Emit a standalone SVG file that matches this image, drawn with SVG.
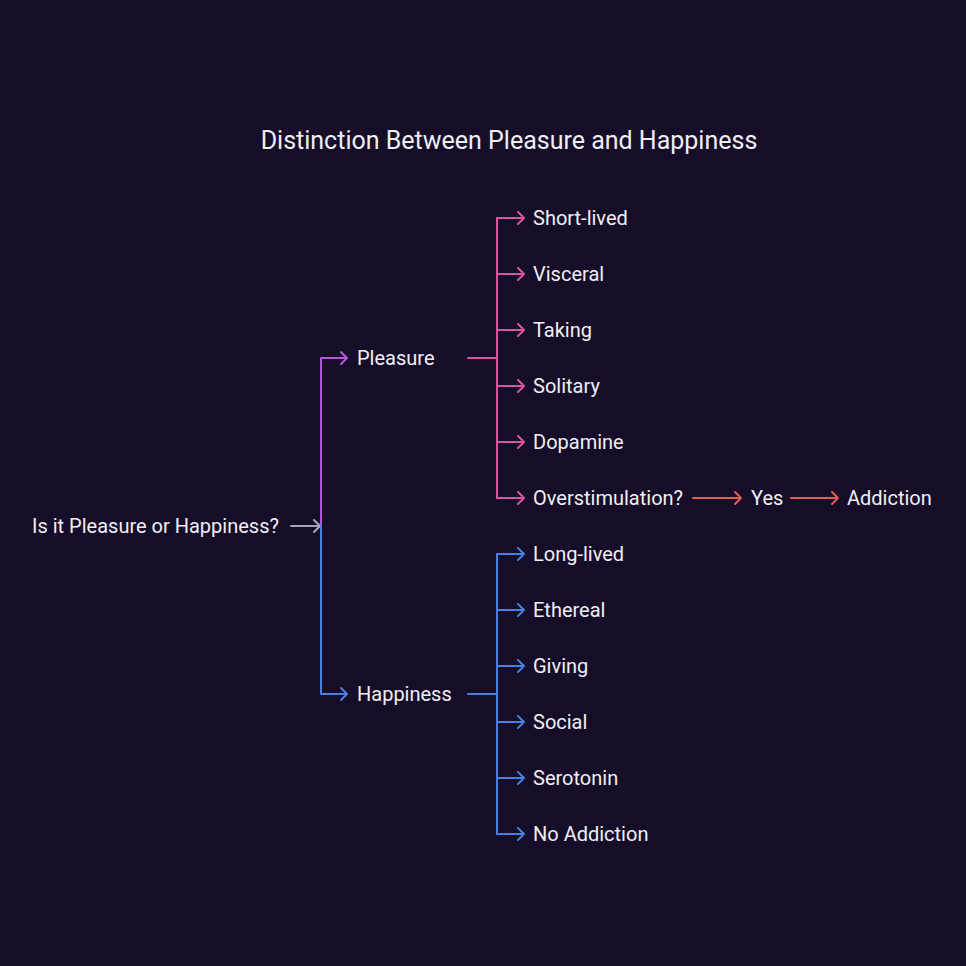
<svg xmlns="http://www.w3.org/2000/svg" width="966" height="966" viewBox="0 0 966 966">
<defs>
<style>
text{font-family:Roboto,"Liberation Sans",sans-serif;fill:#f0eef5;font-size:20px}
.title{font-size:25px;text-anchor:middle}
.c{fill:none;stroke-width:2;stroke-linecap:round;stroke-linejoin:round}
.g{stroke:#a9a6b3}.p{stroke:#b157d8}.k{stroke:#d9539f}.b{stroke:#4a7fe0}.r{stroke:#e45b52}
</style>
</defs>
<rect width="966" height="966" fill="#160e28"/>
<text class="title" x="509" y="149">Distinction Between Pleasure and Happiness</text>
<g id="connectors">
<path class="c g" d="M291 526H320M314 520L320 526L314 532"/>
<path class="c p" d="M321 526V358H347M341 352L347 358L341 364"/>
<path class="c b" d="M321 526V694H347M341 688L347 694L341 700"/>
<path class="c k" d="M468 358H497M497 218V498"/>
<path class="c k" d="M497 218H524M518 212L524 218L518 224"/>
<path class="c k" d="M497 274H524M518 268L524 274L518 280"/>
<path class="c k" d="M497 330H524M518 324L524 330L518 336"/>
<path class="c k" d="M497 386H524M518 380L524 386L518 392"/>
<path class="c k" d="M497 442H524M518 436L524 442L518 448"/>
<path class="c k" d="M497 498H524M518 492L524 498L518 504"/>
<path class="c b" d="M468 694H497M497 554V834"/>
<path class="c b" d="M497 554H524M518 548L524 554L518 560"/>
<path class="c b" d="M497 610H524M518 604L524 610L518 616"/>
<path class="c b" d="M497 666H524M518 660L524 666L518 672"/>
<path class="c b" d="M497 722H524M518 716L524 722L518 728"/>
<path class="c b" d="M497 778H524M518 772L524 778L518 784"/>
<path class="c b" d="M497 834H524M518 828L524 834L518 840"/>
<path class="c r" d="M693 498H741M735 492L741 498L735 504"/>
<path class="c r" d="M791 498H838M832 492L838 498L832 504"/>
</g>
<g id="root"><text x="32" y="533">Is it Pleasure or Happiness?</text></g>
<g id="pleasure"><text x="357" y="365">Pleasure</text></g>
<g id="happiness"><text x="357" y="701">Happiness</text></g>
<g id="short-lived"><text x="533" y="225">Short-lived</text></g>
<g id="visceral"><text x="533" y="281">Visceral</text></g>
<g id="taking"><text x="533" y="337">Taking</text></g>
<g id="solitary"><text x="533" y="393">Solitary</text></g>
<g id="dopamine"><text x="533" y="449">Dopamine</text></g>
<g id="overstimulation"><text x="533" y="505">Overstimulation?</text></g>
<g id="yes"><text x="751" y="505">Yes</text></g>
<g id="addiction"><text x="847" y="505">Addiction</text></g>
<g id="long-lived"><text x="533" y="561">Long-lived</text></g>
<g id="ethereal"><text x="533" y="617">Ethereal</text></g>
<g id="giving"><text x="533" y="673">Giving</text></g>
<g id="social"><text x="533" y="729">Social</text></g>
<g id="serotonin"><text x="533" y="785">Serotonin</text></g>
<g id="no-addiction"><text x="533" y="841">No Addiction</text></g>
</svg>
